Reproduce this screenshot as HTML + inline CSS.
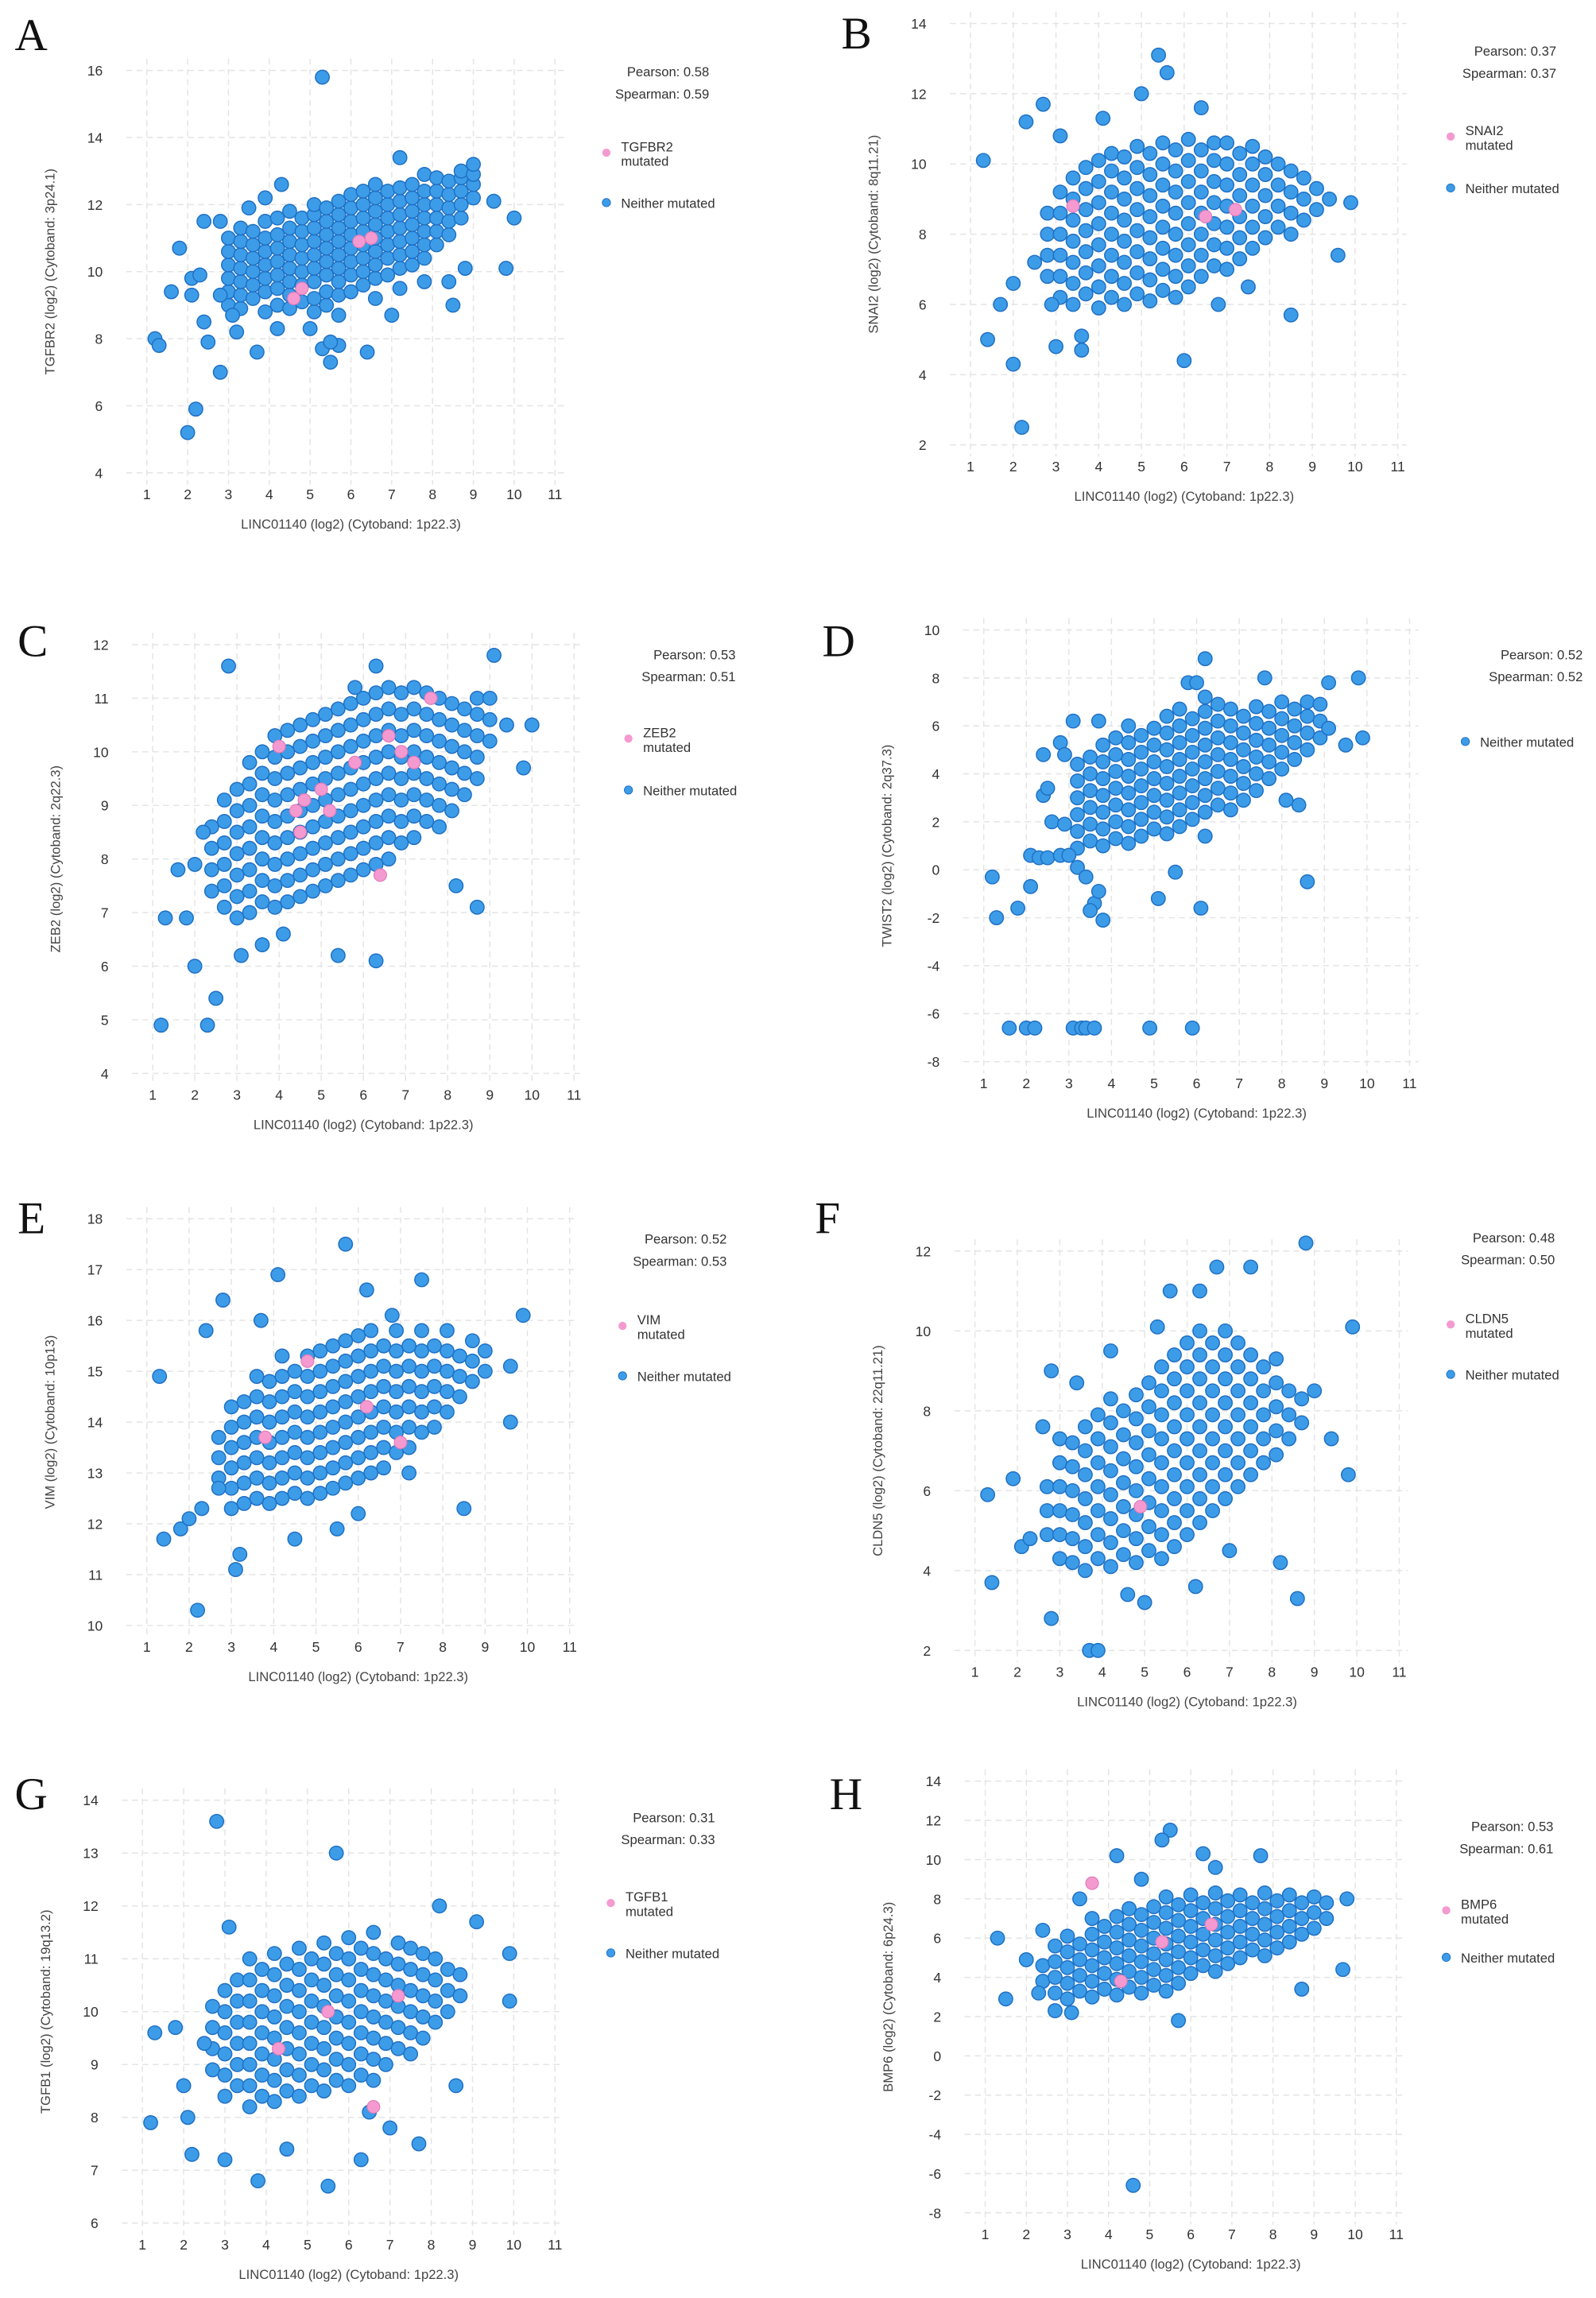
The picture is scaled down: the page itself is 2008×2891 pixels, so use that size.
<!DOCTYPE html>
<html><head><meta charset="utf-8"><title>LINC01140 correlations</title>
<style>
html,body{margin:0;padding:0;background:#fff;}
svg{display:block;}
text{font-family:"Liberation Sans",sans-serif;fill:#333;}
.tick{font-size:9.5px;}
.ttl{font-size:9px;fill:#444;}
.stat{font-size:9px;fill:#333;}
.leg{font-size:9px;fill:#333;}
.letter{font-family:"Liberation Serif",serif;font-size:31px;fill:#111;}
.grid{stroke:#e4e4e4;stroke-width:0.8;stroke-dasharray:4 3;}
</style></head>
<body>
<svg id="fig" width="2008" height="2891" viewBox="0 0 1087 1565" xmlns="http://www.w3.org/2000/svg"></svg>
<script>
// ---------- data (x = LINC01140 log2, y = gene log2) ----------
const coreA="3.0:9.0 9.4 9.8 10.2 10.6 11.0;3.3:8.9 9.3 9.7 10.1 10.5 10.9 11.3;3.6:9.2 9.6 10.0 10.4 10.8 11.2;3.9:8.8 9.4 9.8 10.2 10.6 11.0 11.5;4.2:9.0 9.5 9.9 10.3 10.7 11.1 11.6;4.5:8.9 9.3 9.7 10.1 10.5 10.9 11.3 11.8;4.8:9.1 9.6 10.0 10.4 10.8 11.2 11.6;5.1:8.8 9.2 9.7 10.1 10.5 10.9 11.3 11.7 12.0;5.4:9.0 9.4 9.9 10.3 10.7 11.1 11.5 11.9;5.7:8.7 9.3 9.7 10.1 10.5 10.9 11.3 11.7 12.1;6.0:9.4 9.9 10.3 10.7 11.1 11.5 11.9 12.3;6.3:9.6 10.0 10.4 10.8 11.2 11.6 12.0 12.4;6.6:9.2 9.8 10.2 10.6 11.0 11.4 11.8 12.2 12.6;6.9:9.9 10.4 10.8 11.2 11.6 12.0 12.4;7.2:9.5 10.1 10.5 10.9 11.3 11.7 12.1 12.5;7.5:10.2 10.6 11.0 11.4 11.8 12.2 12.6;7.8:9.7 10.4 10.8 11.2 11.6 12.0 12.4 12.9;8.1:10.8 11.2 11.6 12.0 12.4 12.8;8.4:11.1 11.5 11.9 12.3 12.7;8.7:11.6 12.0 12.4 12.8 13.0;9.0:12.2 12.6 12.9";
const outA=[[5.3,15.8],[1.2,8],[1.3,7.8],[2.2,5.9],[2,5.2],[2.8,7],[3.7,7.6],[2.5,7.9],[2.4,8.5],[1.8,10.7],[1.6,9.4],[2.1,9.8],[2.3,9.9],[2.4,11.5],[2.8,11.5],[3.5,11.9],[3.9,12.2],[4.3,12.6],[7.2,13.4],[9,13.2],[9.5,12.1],[10,11.6],[9.8,10.1],[8.8,10.1],[8.5,9],[8.4,9.7],[7,8.7],[6.4,7.6],[5.5,7.3],[5.3,7.7],[5.7,7.8],[5.5,7.9],[4.2,8.3],[3.2,8.2],[3.1,8.7],[5,8.3],[2.1,9.3],[2.8,9.3]];
const pinkA=[[4.6,9.2],[4.8,9.5],[6.2,10.9],[6.5,11.0]];

const coreB="2.8:6.8 7.4 8.0 8.6;3.1:6.2 6.8 7.4 8.0 8.6 9.2;3.4:6.0 6.6 7.2 7.8 8.4 9.0 9.6;3.7:6.3 6.9 7.5 8.1 8.7 9.3 9.9;4.0:5.9 6.5 7.1 7.7 8.3 8.9 9.5 10.1;4.3:6.2 6.8 7.4 8.0 8.6 9.2 9.8 10.3;4.6:6.0 6.6 7.2 7.8 8.4 9.0 9.6 10.2;4.9:6.3 6.9 7.5 8.1 8.7 9.3 9.9 10.5;5.2:6.1 6.7 7.3 7.9 8.5 9.1 9.7 10.3;5.5:6.4 7.0 7.6 8.2 8.8 9.4 10.0 10.6;5.8:6.2 6.8 7.4 8.0 8.6 9.2 9.8 10.4;6.1:6.5 7.1 7.7 8.3 8.9 9.5 10.1 10.7;6.4:6.8 7.4 8.0 8.6 9.2 9.8 10.4;6.7:7.1 7.7 8.3 8.9 9.5 10.1 10.6;7.0:7.0 7.6 8.2 8.8 9.4 10.0 10.6;7.3:7.3 7.9 8.5 9.1 9.7 10.3;7.6:7.6 8.2 8.8 9.4 10.0 10.5;7.9:7.9 8.5 9.1 9.7 10.2;8.2:8.2 8.8 9.4 10.0;8.5:8.0 8.6 9.2 9.8;8.8:8.4 9.0 9.6;9.1:8.7 9.3";
const outB=[[1.3,10.1],[1.4,5],[2,4.3],[2.2,2.5],[1.7,6],[2,6.6],[2.3,11.2],[2.7,11.7],[3.1,10.8],[3,4.8],[3.6,5.1],[3.6,4.7],[5.4,13.1],[5.6,12.6],[5,12],[6,4.4],[8.5,5.7],[9.6,7.4],[9.9,8.9],[9.4,9],[4.1,11.3],[6.4,11.6],[2.9,6],[2.5,7.2],[6.8,6],[7.5,6.5]];
const pinkB=[[3.4,8.8],[6.5,8.5],[7.2,8.7]];

const coreC="2.4:7.4 7.8 8.2 8.6;2.7:7.1 7.5 7.9 8.3 8.7 9.1;3.0:6.9 7.3 7.7 8.1 8.5 8.9 9.3;3.3:7.0 7.4 7.8 8.2 8.6 9.0 9.4 9.8;3.6:7.2 7.6 8.0 8.4 8.8 9.2 9.6 10.0;3.9:7.1 7.5 7.9 8.3 8.7 9.1 9.5 9.9 10.3;4.2:7.2 7.6 8.0 8.4 8.8 9.2 9.6 10.0 10.4;4.5:7.3 7.7 8.1 8.5 8.9 9.3 9.7 10.1 10.5;4.8:7.4 7.8 8.2 8.6 9.0 9.4 9.8 10.2 10.6;5.1:7.5 7.9 8.3 8.7 9.1 9.5 9.9 10.3 10.7;5.4:7.6 8.0 8.4 8.8 9.2 9.6 10.0 10.4 10.8;5.7:7.7 8.1 8.5 8.9 9.3 9.7 10.1 10.5 10.9;6.0:7.8 8.2 8.6 9.0 9.4 9.8 10.2 10.6 11.0;6.3:7.9 8.3 8.7 9.1 9.5 9.9 10.3 10.7 11.1;6.6:8.0 8.4 8.8 9.2 9.6 10.0 10.4 10.8 11.2;6.9:8.3 8.7 9.1 9.5 9.9 10.3 10.7 11.1;7.2:8.4 8.8 9.2 9.6 10.0 10.4 10.8 11.2;7.5:8.7 9.1 9.5 9.9 10.3 10.7 11.1;7.8:8.6 9.0 9.4 9.8 10.2 10.6 11.0;8.1:8.9 9.3 9.7 10.1 10.5 10.9;8.4:9.2 9.6 10.0 10.4 10.8;8.7:9.5 9.9 10.3 10.7 11.0;9.0:10.2 10.6 11.0";
const outC=[[1.2,4.9],[1.3,6.9],[2,6],[2.3,4.9],[2.5,5.4],[2.8,11.6],[1.8,6.9],[1.6,7.8],[5.4,6.2],[6.3,6.1],[5.8,11.2],[6.3,11.6],[8.7,7.1],[9.4,10.5],[9.8,9.7],[10,10.5],[9.1,11.8],[3.1,6.2],[3.6,6.4],[4.1,6.6],[2.2,8.5],[8.2,7.5],[2.0,7.9]];
const pinkC=[[4,10.1],[4.4,8.9],[4.5,8.5],[4.6,9.1],[5,9.3],[5.2,8.9],[5.8,9.8],[6.9,10],[7.2,9.8],[6.6,10.3],[6.4,7.7],[7.6,11]];

const coreD="3.2:0.9 1.6 2.3 3.0 3.7 4.4;3.5:1.2 1.9 2.6 3.3 4.0 4.7;3.8:1.0 1.7 2.4 3.1 3.8 4.5 5.2;4.1:1.3 2.0 2.7 3.4 4.1 4.8 5.5;4.4:1.1 1.8 2.5 3.2 3.9 4.6 5.3 6.0;4.7:1.4 2.1 2.8 3.5 4.2 4.9 5.6;5.0:1.7 2.4 3.1 3.8 4.5 5.2 5.9;5.3:1.5 2.2 2.9 3.6 4.3 5.0 5.7 6.4;5.6:1.8 2.5 3.2 3.9 4.6 5.3 6.0 6.7;5.9:2.1 2.8 3.5 4.2 4.9 5.6 6.3;6.2:1.4 2.4 3.1 3.8 4.5 5.2 5.9 6.6 7.2;6.5:2.7 3.4 4.1 4.8 5.5 6.2 6.9;6.8:2.5 3.2 3.9 4.6 5.3 6.0 6.7;7.1:2.9 3.6 4.3 5.0 5.7 6.4;7.4:3.3 4.0 4.7 5.4 6.1 6.8;7.7:3.8 4.5 5.2 5.9 6.6;8.0:4.2 4.9 5.6 6.3 7.0;8.3:4.6 5.3 6.0 6.7;8.6:5.0 5.7 6.4 7.0;8.9:5.5 6.2 6.9;9.1:5.9";
const outD=[[1.2,-0.3],[1.3,-2],[1.8,-1.6],[2.1,-0.7],[2.1,0.6],[2.3,0.5],[2.5,0.5],[2.4,3.1],[2.5,3.4],[2.6,2],[2.9,1.9],[2.8,0.6],[3.0,0.6],[3.2,0.1],[3.4,-0.3],[3.6,-1.4],[3.7,-0.9],[3.8,-2.1],[3.5,-1.7],[5.1,-1.2],[6.1,-1.6],[5.5,-0.1],[8.6,-0.5],[8.4,2.7],[8.1,2.9],[9.8,8],[9.1,7.8],[6.2,8.8],[7.6,8],[5.8,7.8],[6,7.8],[9.9,5.5],[9.5,5.2],[2.8,5.3],[2.4,4.8],[2.9,4.8],[3.1,6.2],[3.7,6.2],[1.6,-6.6],[2.0,-6.6],[2.2,-6.6],[3.1,-6.6],[3.3,-6.6],[3.4,-6.6],[3.6,-6.6],[4.9,-6.6],[5.9,-6.6]];
const pinkD=[];

const coreE="2.7:12.9 13.3 13.7;3.0:12.3 12.7 13.1 13.5 13.9 14.3;3.3:12.4 12.8 13.2 13.6 14.0 14.4;3.6:12.5 12.9 13.3 13.7 14.1 14.5 14.9;3.9:12.4 12.8 13.2 13.6 14.0 14.4 14.8;4.2:12.5 12.9 13.3 13.7 14.1 14.5 14.9 15.3;4.5:12.6 13.0 13.4 13.8 14.2 14.6 15.0;4.8:12.5 12.9 13.3 13.7 14.1 14.5 14.9 15.3;5.1:12.6 13.0 13.4 13.8 14.2 14.6 15.0 15.4;5.4:12.7 13.1 13.5 13.9 14.3 14.7 15.1 15.5;5.7:12.8 13.2 13.6 14.0 14.4 14.8 15.2 15.6;6.0:12.9 13.3 13.7 14.1 14.5 14.9 15.3 15.7;6.3:13.0 13.4 13.8 14.2 14.6 15.0 15.4 15.8;6.6:13.1 13.5 13.9 14.3 14.7 15.1 15.5;6.9:13.4 13.8 14.2 14.6 15.0 15.4 15.8;7.2:13.5 13.9 14.3 14.7 15.1 15.5;7.5:13.8 14.2 14.6 15.0 15.4 15.8;7.8:13.9 14.3 14.7 15.1 15.5;8.1:14.2 14.6 15.0 15.4 15.8;8.4:14.5 14.9 15.3;8.7:14.8 15.2 15.6;9.0:15.0 15.4";
const outE=[[1.3,14.9],[1.4,11.7],[2.2,10.3],[3.1,11.1],[3.2,11.4],[1.8,11.9],[2,12.1],[2.3,12.3],[2.4,15.8],[2.8,16.4],[4.1,16.9],[5.7,17.5],[6.2,16.6],[7.5,16.8],[8.5,12.3],[9.6,14],[9.9,16.1],[9.6,15.1],[2.7,12.7],[4.5,11.7],[5.5,11.9],[6,12.2],[7.2,13],[3.7,16],[6.8,16.1]];
const pinkE=[[3.8,13.7],[4.8,15.2],[6.2,14.3],[7,13.6]];

const coreF="2.7:4.9 5.5 6.1;3.0:4.3 4.9 5.5 6.1 6.7 7.3;3.3:4.2 4.8 5.4 6.0 6.6 7.2;3.6:4.0 4.6 5.2 5.8 6.4 7.0 7.6;3.9:4.3 4.9 5.5 6.1 6.7 7.3 7.9;4.2:4.1 4.7 5.3 5.9 6.5 7.1 7.7 8.3;4.5:4.4 5.0 5.6 6.2 6.8 7.4 8.0;4.8:4.2 4.8 5.4 6.0 6.6 7.2 7.8 8.4;5.1:4.5 5.1 5.7 6.3 6.9 7.5 8.1 8.7;5.4:4.3 4.9 5.5 6.1 6.7 7.3 7.9 8.5 9.1;5.7:4.6 5.2 5.8 6.4 7.0 7.6 8.2 8.8 9.4;6.0:4.9 5.5 6.1 6.7 7.3 7.9 8.5 9.1 9.7;6.3:5.2 5.8 6.4 7.0 7.6 8.2 8.8 9.4 10.0;6.6:5.5 6.1 6.7 7.3 7.9 8.5 9.1 9.7;6.9:5.8 6.4 7.0 7.6 8.2 8.8 9.4 10.0;7.2:6.1 6.7 7.3 7.9 8.5 9.1 9.7;7.5:6.4 7.0 7.6 8.2 8.8 9.4;7.8:6.7 7.3 7.9 8.5 9.1;8.1:6.9 7.5 8.1 8.7 9.3;8.4:7.3 7.9 8.5;8.7:7.7 8.3";
const outF=[[1.3,5.9],[1.4,3.7],[2.8,2.8],[3.7,2],[3.9,2],[1.9,6.3],[2.1,4.6],[2.3,4.8],[2.6,7.6],[2.8,9],[3.4,8.7],[4.2,9.5],[5.3,10.1],[5.6,11],[6.3,11],[6.7,11.6],[7.5,11.6],[8.8,12.2],[9.9,10.1],[9.8,6.4],[8.6,3.3],[8.2,4.2],[7,4.5],[6.2,3.6],[5,3.2],[4.6,3.4],[9,8.5],[9.4,7.3]];
const pinkF=[[4.9,5.6]];

const coreG="2.7:8.9 9.3 9.7 10.1;3.0:8.4 8.8 9.2 9.6 10.0 10.4;3.3:8.6 9.0 9.4 9.8 10.2 10.6;3.6:8.2 8.6 9.0 9.4 9.8 10.2 10.6 11.0;3.9:8.4 8.8 9.2 9.6 10.0 10.4 10.8;4.2:8.3 8.7 9.1 9.5 9.9 10.3 10.7 11.1;4.5:8.5 8.9 9.3 9.7 10.1 10.5 10.9;4.8:8.4 8.8 9.2 9.6 10.0 10.4 10.8 11.2;5.1:8.6 9.0 9.4 9.8 10.2 10.6 11.0;5.4:8.5 8.9 9.3 9.7 10.1 10.5 10.9 11.3;5.7:8.7 9.1 9.5 9.9 10.3 10.7 11.1;6.0:8.6 9.0 9.4 9.8 10.2 10.6 11.0 11.4;6.3:8.8 9.2 9.6 10.0 10.4 10.8 11.2;6.6:8.7 9.1 9.5 9.9 10.3 10.7 11.1 11.5;6.9:9.0 9.4 9.8 10.2 10.6 11.0;7.2:9.3 9.7 10.1 10.5 10.9 11.3;7.5:9.2 9.6 10.0 10.4 10.8 11.2;7.8:9.5 9.9 10.3 10.7 11.1;8.1:9.8 10.2 10.6 11.0;8.4:10.0 10.4 10.8;8.7:10.3 10.7";
const outG=[[1.2,7.9],[1.3,9.6],[1.8,9.7],[2,8.6],[2.2,7.3],[2.1,8],[2.8,13.6],[3.1,11.6],[3,7.2],[3.8,6.8],[5.5,6.7],[5.7,13],[6.3,7.2],[7.7,7.5],[9.9,10.2],[9.9,11.1],[9.1,11.7],[8.2,12],[4.5,7.4],[2.5,9.4],[6.5,8.1],[7,7.8],[8.6,8.6]];
const pinkG=[[4.3,9.3],[5.5,10],[6.6,8.2],[7.2,10.3]];

const coreH="2.4:3.8 4.6;2.7:3.2 4.0 4.8 5.6;3.0:2.9 3.7 4.5 5.3 6.1;3.3:3.3 4.1 4.9 5.7;3.6:3.0 3.8 4.6 5.4 6.2 7.0;3.9:3.4 4.2 5.0 5.8 6.6;4.2:3.1 3.9 4.7 5.5 6.3 7.1;4.5:3.5 4.3 5.1 5.9 6.7 7.5;4.8:3.2 4.0 4.8 5.6 6.4 7.2;5.1:3.6 4.4 5.2 6.0 6.8 7.6;5.4:3.3 4.1 4.9 5.7 6.5 7.3 8.1;5.7:3.7 4.5 5.3 6.1 6.9 7.7;6.0:4.2 5.0 5.8 6.6 7.4 8.2;6.3:4.6 5.4 6.2 7.0 7.8;6.6:4.3 5.1 5.9 6.7 7.5 8.3;6.9:4.7 5.5 6.3 7.1 7.9;7.2:5.0 5.8 6.6 7.4 8.2;7.5:5.4 6.2 7.0 7.8;7.8:5.1 5.9 6.7 7.5 8.3;8.1:5.5 6.3 7.1 7.9;8.4:5.8 6.6 7.4 8.2;8.7:6.2 7.0 7.8;9.0:6.5 7.3 8.1;9.3:7.0 7.8";
const outH=[[1.3,6],[1.5,2.9],[2,4.9],[2.3,3.2],[2.7,2.3],[4.6,-6.6],[5.7,1.8],[4.2,10.2],[5.5,11.5],[5.3,11],[6.3,10.3],[6.6,9.6],[7.7,10.2],[9.8,8],[9.7,4.4],[8.7,3.4],[2.4,6.4],[3.3,8],[4.8,9],[3.1,2.2]];
const pinkH=[[3.6,8.8],[4.3,3.8],[5.3,5.8],[6.5,6.7]];

const xTicks=[1,2,3,4,5,6,7,8,9,10,11];
const genes=["TGFBR2","SNAI2","ZEB2","TWIST2","VIM","CLDN5","TGFB1","BMP6"];
const bands=["3p24.1","8q11.21","2q22.3","2q37.3","10p13","22q11.21","19q13.2","6p24.3"];
const pearson=["0.58","0.37","0.53","0.52","0.52","0.48","0.31","0.53"];
const spearman=["0.59","0.37","0.51","0.52","0.53","0.50","0.33","0.61"];
const yMin=[4,2,4,-8,10,2,6,-8];
const yMax=[16,14,12,10,18,12,14,14];
const yStep=[2,2,1,2,1,2,1,2];
const cores=[coreA,coreB,coreC,coreD,coreE,coreF,coreG,coreH];
const outs=[outA,outB,outC,outD,outE,outF,outG,outH];
const pinks=[pinkA,pinkB,pinkC,pinkD,pinkE,pinkF,pinkG,pinkH];

// ---------- layout (display units) ----------
const L=[
 {letter:"A",lx:10,ly:34,x1:100,x11:378,yT:48,yB:322,sx:483,sy:52,lgx:413,py:104,ny:138},
 {letter:"B",lx:573,ly:33,x1:661,x11:952,yT:16,yB:303,sx:1060,sy:38,lgx:988,py:93,ny:128},
 {letter:"C",lx:12,ly:447,x1:104,x11:391,yT:439,yB:731,sx:501,sy:449,lgx:428,py:503,ny:538},
 {letter:"D",lx:560,ly:447,x1:670,x11:960,yT:429,yB:723,sx:1078,sy:449,lgx:998,py:null,ny:505},
 {letter:"E",lx:12,ly:840,x1:100,x11:388,yT:830,yB:1107,sx:495,sy:847,lgx:424,py:903,ny:937},
 {letter:"F",lx:555,ly:840,x1:664,x11:953,yT:852,yB:1124,sx:1059,sy:846,lgx:988,py:902,ny:936},
 {letter:"G",lx:10,ly:1232,x1:97,x11:378,yT:1226,yB:1514,sx:487,sy:1241,lgx:416,py:1296,ny:1330},
 {letter:"H",lx:565,ly:1232,x1:671,x11:951,yT:1213,yB:1507,sx:1058,sy:1247,lgx:985,py:1301,ny:1333}
];

const NS="http://www.w3.org/2000/svg";
const svg=document.getElementById('fig');
function mk(tag,attrs,parent,txt){const e=document.createElementNS(NS,tag);for(const k in attrs)e.setAttribute(k,attrs[k]);if(txt!==undefined)e.textContent=txt;parent.appendChild(e);return e;}
function parseCore(s){const pts=[];s.split(';').forEach(col=>{const [xs,ys]=col.split(':');ys.trim().split(/\s+/).forEach(v=>pts.push([parseFloat(xs),parseFloat(v)]));});return pts;}

L.forEach((p,i)=>{
  const g=mk('g',{},svg);
  
  
  const X=v=>p.x1+(v-1)*(p.x11-p.x1)/10;
  const Y=v=>p.yB-(v-yMin[i])*(p.yB-p.yT)/(yMax[i]-yMin[i]);
  const gl=p.x1-14, gr=p.x11+6, gt=p.yT-8, gb=p.yB+8;
  const letter=mk('text',{x:p.lx,y:p.ly,class:'letter'},g,p.letter);
  
  
  const grid=mk('g',{},g);
  
  
  xTicks.forEach(t=>{
    mk('line',{x1:X(t),x2:X(t),y1:gt,y2:gb,class:'grid'},grid);
    const tl=mk('text',{x:X(t),y:p.yB+18,class:'tick','text-anchor':'middle'},g,String(t));
    
    
  });
  for(let v=yMin[i];v<=yMax[i]+1e-9;v+=yStep[i]){
    mk('line',{x1:gl,x2:gr,y1:Y(v),y2:Y(v),class:'grid'},grid);
    const tl=mk('text',{x:p.x1-30,y:Y(v)+3.5,class:'tick','text-anchor':'end'},g,String(v));
    
    
  }
  const xt=mk('text',{x:(p.x1+p.x11)/2,y:p.yB+38,class:'ttl','text-anchor':'middle'},g,'LINC01140 (log2) (Cytoband: 1p22.3)');
  
  
  const yc=(p.yT+p.yB)/2, yx=p.x1-63;
  const yt=mk('text',{x:yx,y:yc,class:'ttl','text-anchor':'middle',transform:`rotate(-90 ${yx} ${yc})`},g,genes[i]+' (log2) (Cytoband: '+bands[i]+')');
  
  
  const pts=parseCore(cores[i]).concat(outs[i]);
  const pg=mk('g',{},g);
  
  
  pts.forEach(d=>{
    const c=mk('circle',{cx:X(d[0]),cy:Y(d[1]),r:4.7,fill:'#3d9ce8',stroke:'#1f70c4','stroke-width':0.8},pg);
    
    
  });
  const kg=mk('g',{},g);
  
  
  pinks[i].forEach(d=>{
    const c=mk('circle',{cx:X(d[0]),cy:Y(d[1]),r:4.3,fill:'#f59ad0',stroke:'#e078b8','stroke-width':0.6},kg);
    
    
  });
  const s1=mk('text',{x:p.sx,y:p.sy,class:'stat','text-anchor':'end'},g,'Pearson: '+pearson[i]);
  
  
  const s2=mk('text',{x:p.sx,y:p.sy+15,class:'stat','text-anchor':'end'},g,'Spearman: '+spearman[i]);
  
  
  const lg=mk('g',{},g);
  
  
  if(p.py!==null){
    const e=mk('g',{},lg);
    
    
    mk('circle',{cx:p.lgx,cy:p.py,r:2.8,fill:'#f59ad0'},e);
    mk('text',{x:p.lgx+10,y:p.py-1,class:'leg'},e,genes[i]);
    mk('text',{x:p.lgx+10,y:p.py+9,class:'leg'},e,'mutated');
  }
  const e2=mk('g',{},lg);
  
  
  mk('circle',{cx:p.lgx,cy:p.ny,r:2.8,fill:'#3d9ce8',stroke:'#1f70c4','stroke-width':0.5},e2);
  mk('text',{x:p.lgx+10,y:p.ny+3.5,class:'leg'},e2,'Neither mutated');
});
</script>
</body></html>
